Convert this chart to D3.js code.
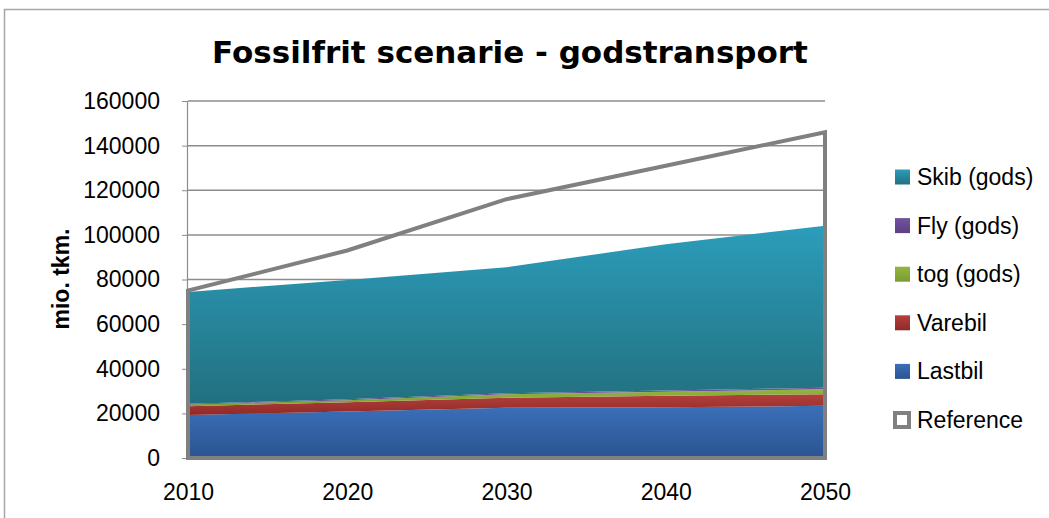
<!DOCTYPE html>
<html><head><meta charset="utf-8">
<script src="https://cdn.jsdelivr.net/npm/d3@7"></script>
<style>body{margin:0;background:#fff}svg{display:block}</style>
</head><body><svg id="c" width="1049" height="518"></svg>
<script>
const years = [2010, 2020, 2030, 2040, 2050];
const lastbil = [19300, 20800, 22500, 22700, 23400];
const varebil = [3900, 4200, 4500, 5200, 5200];
const tog = [800, 900, 1600, 1800, 2200];
const fly = [300, 400, 400, 500, 700];
const skib = [50100, 53500, 56500, 65600, 72600];
const reference = [75000, 93000, 116000, 131000, 146000];
const yTicks = [0, 20000, 40000, 60000, 80000, 100000, 120000, 140000, 160000];
const seriesNames = ["Lastbil", "Varebil", "tog (gods)", "Fly (gods)", "Skib (gods)"];
const legendNames = ["Skib (gods)", "Fly (gods)", "tog (gods)", "Varebil", "Lastbil", "Reference"];

const svg = d3.select("#c");
const font = "'Liberation Sans', Arial, sans-serif";
const x = d3.scaleLinear().domain([2010, 2050]).range([188, 825]);
const y = d3.scaleLinear().domain([0, 160000]).range([458, 101]);

// outer frame
svg.append("rect").attr("x", 4.5).attr("y", 9.5).attr("width", 1200).attr("height", 700)
  .attr("fill", "none").attr("stroke", "#a6a6a6").attr("stroke-width", 1.5);

// gradients
const defs = svg.append("defs");
const grads = {
  "Lastbil": ["#3a6fb8", "#2a5491"],
  "Varebil": ["#b5403c", "#8f2a27"],
  "tog (gods)": ["#92b640", "#7b9c30"],
  "Fly (gods)": ["#7253a0", "#5c4184"],
  "Skib (gods)": ["#2c9dbb", "#22707f"]
};
Object.entries(grads).forEach(([k, c], i) => {
  const g = defs.append("linearGradient").attr("id", "g" + i).attr("x1", 0).attr("y1", 0).attr("x2", 0).attr("y2", 1);
  g.append("stop").attr("offset", "0%").attr("stop-color", c[0]);
  g.append("stop").attr("offset", "100%").attr("stop-color", c[1]);
});
const gradId = name => "url(#g" + Object.keys(grads).indexOf(name) + ")";

// gridlines
svg.append("g").selectAll("line").data(yTicks.slice(1)).join("line")
  .attr("x1", 188).attr("x2", 825).attr("y1", d => y(d)).attr("y2", d => y(d))
  .attr("stroke", "#8c8c8c").attr("stroke-width", 1.5);

// stacked areas
const rows = years.map((yr, i) => ({year: yr, "Lastbil": lastbil[i], "Varebil": varebil[i], "tog (gods)": tog[i], "Fly (gods)": fly[i], "Skib (gods)": skib[i]}));
const stack = d3.stack().keys(seriesNames)(rows);
const area = d3.area().x(d => x(d.data.year)).y0(d => y(d[0])).y1(d => y(d[1]));
svg.append("g").selectAll("path").data(stack).join("path")
  .attr("d", area).attr("fill", d => gradId(d.key));

// y axis
const yAxis = svg.append("g").attr("transform", "translate(187,0)")
  .call(d3.axisLeft(y).tickValues(yTicks).tickSize(5).tickPadding(22).tickFormat(d3.format("d")));
yAxis.select(".domain").attr("stroke", "#8c8c8c").attr("stroke-width", 1.2);
yAxis.selectAll(".tick line").attr("stroke", "#8c8c8c");
yAxis.selectAll("text").attr("font-family", font).attr("font-size", 23).attr("fill", "#000");

// reference area (outline only)
const refPts = years.map((yr, i) => [x(yr), y(reference[i])]);
const refPath = [[x(2010), y(0)], ...refPts, [x(2050), y(0)]];
svg.append("path").attr("d", d3.line()(refPath) + "Z")
  .attr("fill", "none").attr("stroke", "#808080").attr("stroke-width", 4).attr("stroke-linejoin", "miter");

// x axis labels
const xAxis = svg.append("g").attr("transform", "translate(0,458)")
  .call(d3.axisBottom(x).tickValues(years).tickSize(0).tickPadding(26).tickFormat(d3.format("d")));
xAxis.select(".domain").remove();
xAxis.selectAll("text").attr("font-family", font).attr("font-size", 23).attr("fill", "#000");

// title
svg.append("text").attr("x", 510).attr("y", 63).attr("text-anchor", "middle")
  .attr("font-family", "'DejaVu Sans', Verdana, sans-serif").attr("font-weight", "bold")
  .attr("font-size", 31).text("Fossilfrit scenarie - godstransport");

// y label
svg.append("text").attr("transform", "translate(69,279) rotate(-90)").attr("text-anchor", "middle")
  .attr("font-family", font).attr("font-weight", "bold").attr("font-size", 23).text("mio. tkm.");

// legend
const lg = svg.append("g").selectAll("g").data(legendNames).join("g")
  .attr("transform", (d, i) => `translate(0,${177 + i * 48.6})`);
lg.each(function(d) {
  const g = d3.select(this);
  if (d === "Reference") {
    g.append("rect").attr("x", 895).attr("y", -7).attr("width", 14).attr("height", 14)
      .attr("fill", "#fff").attr("stroke", "#808080").attr("stroke-width", 4);
  } else {
    g.append("rect").attr("x", 895).attr("y", -7.5).attr("width", 15).attr("height", 15).attr("fill", gradId(d));
  }
  g.append("text").attr("x", 917).attr("y", 8).attr("font-family", font).attr("font-size", 23).text(d);
});
</script></body></html>
